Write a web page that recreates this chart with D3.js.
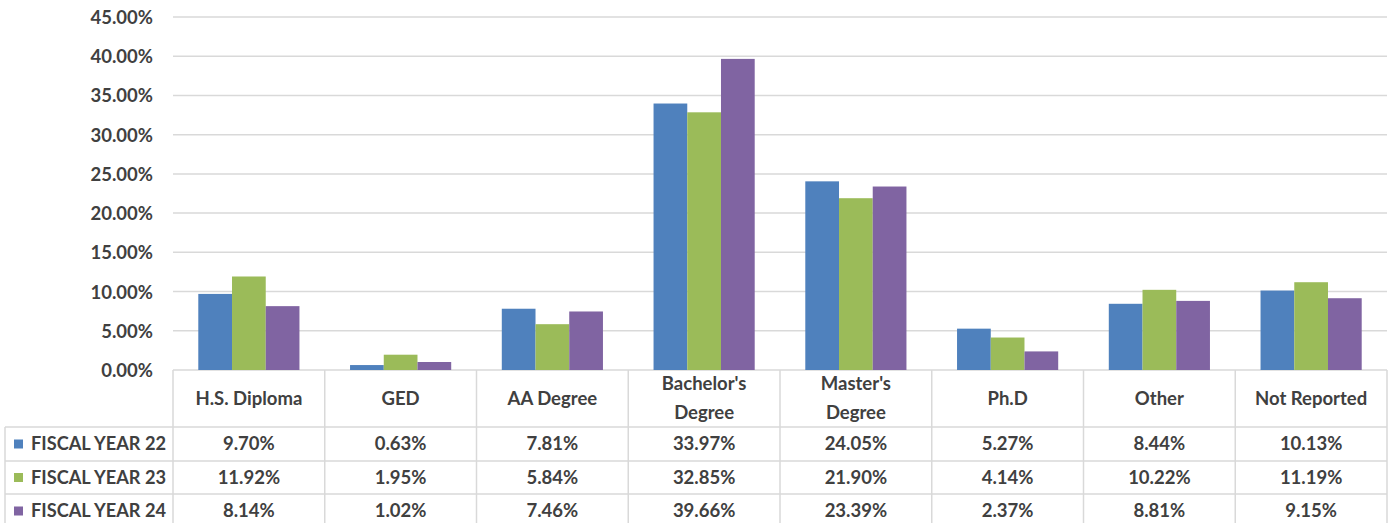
<!DOCTYPE html>
<html><head><meta charset="utf-8">
<script src="https://cdn.jsdelivr.net/npm/d3@7"></script>
<style>
html,body{margin:0;padding:0;background:#fff;}
svg text{font-family:Lato,"Open Sans",sans-serif;font-weight:bold;fill:#404040;}
</style></head>
<body><svg id="c" width="1391" height="523"></svg>
<script>
const categories = [["H.S. Diploma"],["GED"],["AA Degree"],["Bachelor's","Degree"],["Master's","Degree"],["Ph.D"],["Other"],["Not Reported"]];
const seriesNames = ["FISCAL YEAR 22","FISCAL YEAR 23","FISCAL YEAR 24"];
const fy22 = [9.70,0.63,7.81,33.97,24.05,5.27,8.44,10.13];
const fy23 = [11.92,1.95,5.84,32.85,21.90,4.14,10.22,11.19];
const fy24 = [8.14,1.02,7.46,39.66,23.39,2.37,8.81,9.15];
const colors = ["#4F81BD","#9BBB59","#8064A2"];
const yTicks = [0,5,10,15,20,25,30,35,40,45];

(function(){
const seriesVals = [fy22,fy23,fy24];
const svg = d3.select("#c");
const pLeft = 173, pRight = 1387, pTop = 17, pBottom = 370;
const x = d3.scaleBand().domain(d3.range(categories.length)).range([pLeft,pRight]).padding(0);
const cw = x.bandwidth();
const barW = cw/4.5;
const xs = d3.scaleBand().domain(d3.range(3)).range([barW*0.75, cw-barW*0.75]).padding(0);
const y = d3.scaleLinear().domain([0,45]).range([pBottom,pTop]);

svg.append("g").selectAll("line").data(yTicks).join("line")
  .attr("x1",pLeft).attr("x2",pRight).attr("y1",d=>y(d)).attr("y2",d=>y(d))
  .attr("stroke","#d9d9d9").attr("stroke-width",1.5);

const yAxis = d3.axisLeft(y).tickValues(yTicks).tickSize(0).tickPadding(0).tickFormat(d=>d.toFixed(2)+"%");
const ya = svg.append("g").attr("transform",`translate(153,0)`).call(yAxis);
ya.select(".domain").remove();
ya.selectAll("text").attr("font-size",18.5).attr("font-family","Lato").attr("font-weight","bold").attr("fill","#404040").attr("dy","0.35em");

seriesVals.forEach((vals,si)=>{
  svg.append("g").selectAll("rect").data(vals).join("rect")
    .attr("x",(d,i)=>x(i)+xs(si)).attr("width",xs.bandwidth())
    .attr("y",d=>y(d)).attr("height",d=>y(0)-y(d))
    .attr("fill",colors[si]);
});

const rowTops = [370,427,461,494,540];
const tg = svg.append("g");
const stroke = "#d9d9d9";
for(let i=0;i<=categories.length;i++){
  const xx = i<categories.length ? x(i) : pRight;
  tg.append("line").attr("x1",xx).attr("x2",xx).attr("y1",370).attr("y2",540).attr("stroke",stroke).attr("stroke-width",1.5);
}
tg.append("line").attr("x1",5).attr("x2",5).attr("y1",427).attr("y2",540).attr("stroke",stroke).attr("stroke-width",1.5);
[427,461,494].forEach(yy=>{
  tg.append("line").attr("x1",5).attr("x2",pRight).attr("y1",yy).attr("y2",yy).attr("stroke",stroke).attr("stroke-width",1.5);
});
categories.forEach((lines,i)=>{
  const cx = x(i)+cw/2;
  const cy = 398.5;
  const lh = 29;
  lines.forEach((t,k)=>{
    tg.append("text").attr("x",cx).attr("y",cy+(k-(lines.length-1)/2)*lh)
      .attr("text-anchor","middle").attr("dy","0.35em").attr("font-size",18.5).text(t);
  });
});
seriesNames.forEach((name,si)=>{
  const cy = (rowTops[si+1]+Math.min(rowTops[si+2],528))/2;
  tg.append("rect").attr("x",14).attr("y",cy-4.5).attr("width",9).attr("height",9).attr("fill",colors[si]);
  tg.append("text").attr("x",31).attr("y",cy).attr("dy","0.35em").attr("font-size",18.2).text(name);
  seriesVals[si].forEach((v,i)=>{
    tg.append("text").attr("x",x(i)+cw/2).attr("y",cy).attr("dy","0.35em").attr("text-anchor","middle")
      .attr("font-size",18.5).text(v.toFixed(2)+"%");
  });
});
})();
</script></body></html>
